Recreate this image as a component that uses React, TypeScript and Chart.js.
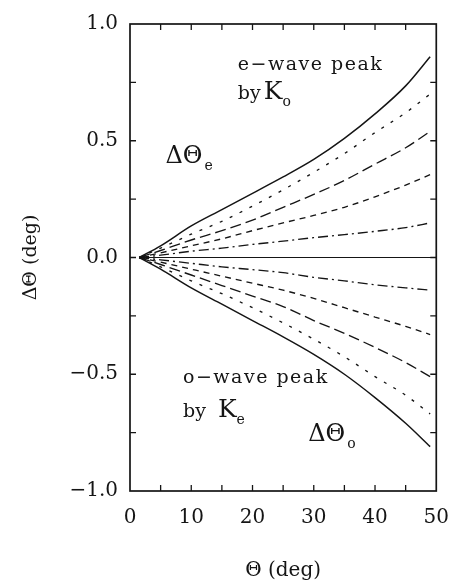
import React, { useEffect, useRef } from "react";
import { Chart, registerables } from "chart.js";

Chart.register(...registerables);

// Θ (deg) sample positions
const thetaValues = [1.5, 5, 10, 15, 20, 25, 30, 35, 40, 45, 49];

// ΔΘ_e family (upper)
const eSolid = [0, 0.05, 0.135, 0.205, 0.275, 0.345, 0.42, 0.51, 0.615, 0.735, 0.86];
const eShortDash = [0, 0.04, 0.1, 0.155, 0.22, 0.29, 0.365, 0.445, 0.535, 0.62, 0.7];
const eLongDash = [0, 0.03, 0.075, 0.115, 0.16, 0.215, 0.27, 0.33, 0.4, 0.47, 0.54];
const eMedDash = [0, 0.02, 0.05, 0.08, 0.115, 0.148, 0.18, 0.215, 0.26, 0.31, 0.355];
const eDashDot = [0, 0.01, 0.027, 0.04, 0.056, 0.07, 0.085, 0.098, 0.112, 0.128, 0.148];

// zero line
const zeroX = [1.5, 50];
const zeroY = [0, 0];

// ΔΘ_o family (lower)
const oDashDot = [0, -0.01, -0.025, -0.04, -0.052, -0.065, -0.085, -0.1, -0.117, -0.13, -0.14];
const oMedDash = [0, -0.02, -0.05, -0.08, -0.11, -0.14, -0.175, -0.215, -0.255, -0.295, -0.33];
const oLongDash = [0, -0.03, -0.075, -0.12, -0.165, -0.21, -0.27, -0.325, -0.385, -0.45, -0.51];
const oShortDash = [0, -0.04, -0.1, -0.155, -0.215, -0.28, -0.35, -0.425, -0.51, -0.59, -0.67];
const oSolid = [0, -0.05, -0.13, -0.2, -0.27, -0.34, -0.415, -0.5, -0.6, -0.71, -0.81];

// axis ticks
const xTickLabels = [0, 10, 20, 30, 40, 50];
const yTickLabels = [-1, -0.5, 0, 0.5, 1];

const INK = "#151515";
const FONT = "'DejaVu Serif', serif";

type Part = { t: string; size: number; dy?: number; gap?: number; ls?: number };
const annotations: { x: number; y: number; parts: Part[] }[] = [
  { x: 17.6, y: 0.805, parts: [{ t: "e\u2212wave peak", size: 19, ls: 1.5 }] },
  { x: 17.6, y: 0.68, parts: [{ t: "by", size: 19 }, { t: "K", size: 25, gap: 3 }, { t: "o", size: 14, dy: 7 }] },
  { x: 5.8, y: 0.405, parts: [{ t: "\u0394\u0398", size: 24 }, { t: "e", size: 14, dy: 7, gap: 2 }] },
  { x: 8.65, y: -0.538, parts: [{ t: "o\u2212wave peak", size: 19, ls: 1.5 }] },
  { x: 8.65, y: -0.685, parts: [{ t: "by", size: 19 }, { t: "K", size: 25, gap: 12 }, { t: "e", size: 14, dy: 7 }] },
  { x: 29.1, y: -0.784, parts: [{ t: "\u0394\u0398", size: 24 }, { t: "o", size: 14, dy: 7, gap: 2 }] },
];

const pts = (xs: number[], ys: number[]) => xs.map((x, i) => ({ x, y: ys[i] }));

const framePlugin = {
  id: "frame",
  afterDraw(chart: any) {
    const { ctx, chartArea: a, scales } = chart;
    const xs = scales.x;
    const ys = scales.y;
    ctx.save();
    ctx.strokeStyle = INK;
    ctx.lineWidth = 1.7;
    ctx.strokeRect(a.left, a.top, a.right - a.left, a.bottom - a.top);
    ctx.lineWidth = 1.3;
    const L = 6;
    ctx.beginPath();
    xs.ticks.forEach((t: any) => {
      const px = xs.getPixelForValue(t.value);
      if (px <= a.left + 1 || px >= a.right - 1) return;
      ctx.moveTo(px, a.bottom);
      ctx.lineTo(px, a.bottom - L);
      ctx.moveTo(px, a.top);
      ctx.lineTo(px, a.top + L);
    });
    ys.ticks.forEach((t: any) => {
      const py = ys.getPixelForValue(t.value);
      if (py <= a.top + 1 || py >= a.bottom - 1) return;
      ctx.moveTo(a.left, py);
      ctx.lineTo(a.left + L, py);
      ctx.moveTo(a.right, py);
      ctx.lineTo(a.right - L, py);
    });
    ctx.stroke();

    ctx.fillStyle = INK;
    ctx.textBaseline = "alphabetic";
    ctx.textAlign = "left";
    annotations.forEach((an) => {
      let px = xs.getPixelForValue(an.x);
      const py = ys.getPixelForValue(an.y);
      an.parts.forEach((p) => {
        px += p.gap || 0;
        ctx.font = `${p.size}px ${FONT}`;
        (ctx as any).letterSpacing = `${p.ls || 0}px`;
        ctx.fillText(p.t, px, py + (p.dy || 0));
        px += ctx.measureText(p.t).width;
      });
    });
    (ctx as any).letterSpacing = "0px";
    ctx.restore();
  },
};

export default function App() {
  const ref = useRef<HTMLCanvasElement | null>(null);

  useEffect(() => {
    if (!ref.current) return;
    const line = (data: any[], dash: number[], width = 1.35) => ({
      data,
      borderColor: INK,
      borderWidth: width,
      borderDash: dash,
      pointRadius: 0,
      cubicInterpolationMode: "monotone",
      fill: false,
    });
    const chart = new Chart(ref.current, {
      type: "line",
      data: {
        datasets: [
          line(pts(thetaValues, eSolid), [], 1.5),
          line(pts(thetaValues, eShortDash), [3, 8]),
          line(pts(thetaValues, eLongDash), [11, 5]),
          line(pts(thetaValues, eMedDash), [6, 5]),
          line(pts(thetaValues, eDashDot), [10, 4, 2, 4]),
          line(pts(zeroX, zeroY), [], 1),
          line(pts(thetaValues, oDashDot), [10, 4, 2, 4]),
          line(pts(thetaValues, oMedDash), [6, 5]),
          line(pts(thetaValues, oLongDash), [11, 5]),
          line(pts(thetaValues, oShortDash), [3, 8]),
          line(pts(thetaValues, oSolid), [], 1.5),
        ],
      },
      options: {
        animation: false,
        responsive: false,
        maintainAspectRatio: false,
        layout: { padding: { top: 19, right: 16, left: 0, bottom: 0 } },
        plugins: { legend: { display: false }, tooltip: { enabled: false } },
        scales: {
          x: {
            type: "linear",
            min: 0,
            max: 50,
            grid: { display: false, drawTicks: false },
            border: { display: false },
            ticks: {
              stepSize: 5,
              autoSkip: false,
              maxRotation: 0,
              padding: 15,
              color: INK,
              font: { family: FONT, size: 20 },
              callback: (v: any) => (xTickLabels.includes(Number(v)) ? String(v) : ""),
            },
            title: {
              display: true,
              text: "\u0398 (deg)",
              color: INK,
              font: { family: FONT, size: 20 },
              padding: { top: 0, bottom: 4 },
            },
            afterFit: (s: any) => {
              s.height = 96;
            },
          },
          y: {
            type: "linear",
            min: -1,
            max: 1,
            grid: { display: false, drawTicks: false },
            border: { display: false },
            ticks: {
              stepSize: 0.25,
              autoSkip: false,
              padding: 12,
              color: INK,
              font: { family: FONT, size: 20 },
              callback: (v: any) => {
                const n = Number(v);
                if (!yTickLabels.some((t) => Math.abs(t - n) < 1e-9)) return "";
                return n.toFixed(1).replace("-", "\u2212");
              },
            },
            title: {
              display: true,
              text: "\u0394\u0398 (deg)",
              color: INK,
              font: { family: FONT, size: 19 },
              padding: { top: 20, bottom: 0 },
            },
            afterFit: (s: any) => {
              s.width = 130;
            },
          },
        },
      },
      plugins: [framePlugin],
    } as any);
    return () => chart.destroy();
  }, []);

  return (
    <div style={{ position: "absolute", left: 0, top: 0, width: 464, height: 587, background: "#fff" }}>
      <canvas ref={ref} width={464} height={587} />
    </div>
  );
}
